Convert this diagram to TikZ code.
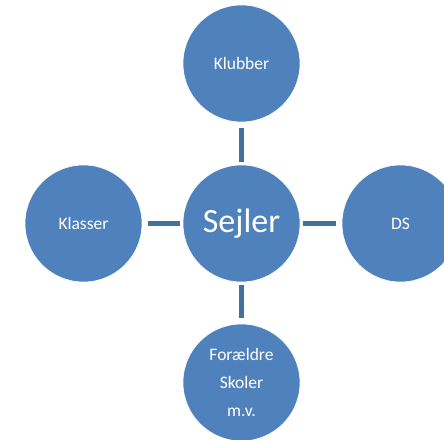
\documentclass[tikz,border=0pt]{standalone}
\usepackage{fontspec}
\setmainfont{Carlito}
\definecolor{bubble}{HTML}{4F81BD}
\definecolor{linkc}{HTML}{41719C}
\begin{document}
\begin{tikzpicture}[x=1pt,y=1pt,
  bubble/.style={circle,fill=bubble,draw=white,line width=0.6pt,minimum size=117pt,inner sep=0pt,text=white,align=center,font=\fontsize{17.5}{28}\selectfont},
  link/.style={draw=linkc,line width=5pt}]
\useasboundingbox (0,0) rectangle (444,-439);
\node[bubble] (klubber) at (241.5,-63.5) {Klubber};
\node[bubble,font=\fontsize{34}{40}\selectfont] (sejler) at (241.5,-223.5) {Sejler};
\node[bubble] (klasser) at (83.5,-223.5) {Klasser};
\node[bubble] (ds) at (400.5,-223.5) {DS};
\node[bubble] (foraeldre) at (241.5,-382.5) {Forældre\\Skoler\\m.v.};
\draw[link,shorten <=2.5pt,shorten >=5.5pt] (sejler) -- (klubber);
\draw[link,shorten <=2.5pt,shorten >=5.5pt] (sejler) -- (klasser);
\draw[link,shorten <=2.5pt,shorten >=5.5pt] (sejler) -- (ds);
\draw[link,shorten <=2.5pt,shorten >=5.5pt] (sejler) -- (foraeldre);
\end{tikzpicture}
\end{document}
